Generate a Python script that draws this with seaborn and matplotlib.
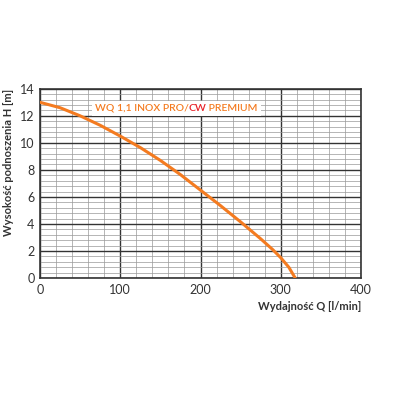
import matplotlib
matplotlib.use("Agg")
import matplotlib.pyplot as plt
import seaborn as sns
import pandas as pd
from matplotlib.ticker import MultipleLocator

flow = [0, 25, 50, 75, 100, 125, 150, 175, 200, 225, 250, 275, 290, 300, 310, 318]
head = [13.0, 12.6, 12.0, 11.3, 10.5, 9.65, 8.7, 7.65, 6.5, 5.35, 4.15, 2.9, 2.1, 1.5, 0.8, 0.0]
df = pd.DataFrame({"Q": flow, "H": head})

sns.set_style("white")
plt.rcParams['font.family'] = ['Lato', 'DejaVu Sans']
fig, ax = plt.subplots(figsize=(4, 4), dpi=100)
fig.subplots_adjust(left=0.1, right=0.9025, bottom=0.305, top=0.778)

sns.lineplot(data=df, x="Q", y="H", ax=ax, color="#f47b20", linewidth=2.2, zorder=3)
ax.set_xlim(0, 400)
ax.set_ylim(0, 14)
ax.xaxis.set_major_locator(MultipleLocator(100))
ax.xaxis.set_minor_locator(MultipleLocator(20))
ax.yaxis.set_major_locator(MultipleLocator(2))
ax.yaxis.set_minor_locator(MultipleLocator(0.4))
ax.grid(which="major", color="#333333", linewidth=1.0)
ax.grid(which="minor", color="#999999", linewidth=0.5)
ax.set_axisbelow(True)
for s in ax.spines.values():
    s.set_color("#333333")
    s.set_linewidth(1.2)
ax.tick_params(which="both", length=0, labelsize=9, colors="#333333", pad=4)
ax.set_xlabel("Wydajność Q [l/min]", fontsize=8, fontweight="bold", color="#333333", loc="right")
ax.set_ylabel("Wysokość podnoszenia H [m]", fontsize=8, fontweight="bold", color="#333333", loc="top")

bg = ax.text(68, 12.55, "WQ 1,1 INOX PRO/CW PREMIUM", color="white", fontsize=7.5, va="center",
             fontweight="semibold", bbox=dict(facecolor="white", edgecolor="none", pad=2), zorder=4)
t1 = ax.text(68, 12.55, "WQ 1,1 INOX PRO/", color="#f47b20", fontsize=7.5, va="center",
             fontweight="semibold", zorder=5)
t2 = ax.annotate("CW", xycoords=t1, xy=(1, 0.5), va="center", color="#e8232a", fontsize=7.5,
                 fontweight="semibold", zorder=5)
t3 = ax.annotate(" PREMIUM", xycoords=t2, xy=(1, 0.5), va="center", color="#f47b20", fontsize=7.5,
                 fontweight="semibold", zorder=5)

fig.savefig("out.png", dpi=100)
